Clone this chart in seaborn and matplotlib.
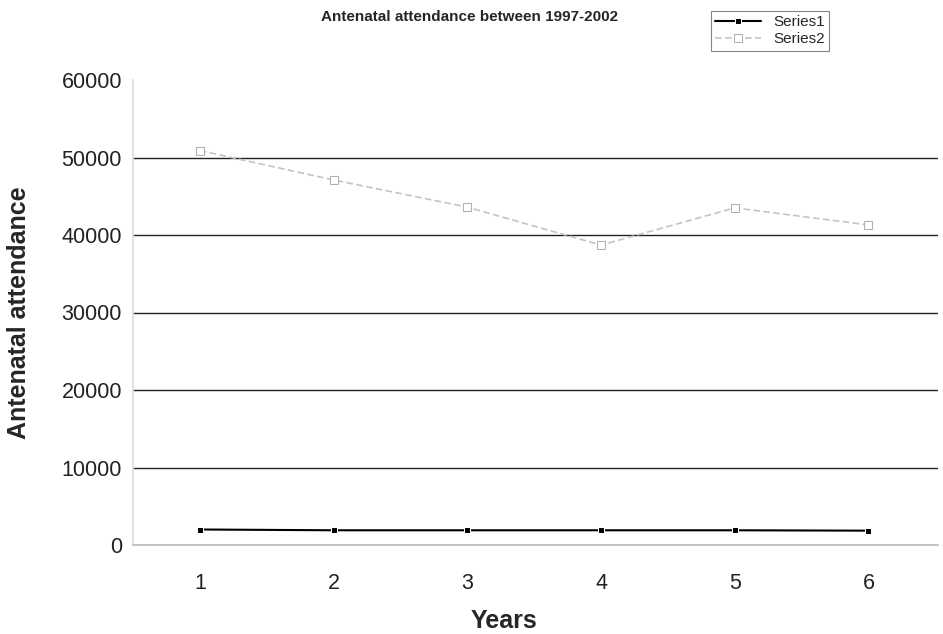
import matplotlib
matplotlib.use("Agg")
import matplotlib.pyplot as plt
import seaborn as sns
import pandas as pd

years = [1, 2, 3, 4, 5, 6]
series1 = [2000, 1900, 1900, 1900, 1900, 1850]
series2 = [50900, 47100, 43600, 38700, 43500, 41300]
yticks = [0, 10000, 20000, 30000, 40000, 50000, 60000]

sns.set_theme(style="white")
plt.rcParams['font.family'] = ['Liberation Sans', 'DejaVu Sans']

df = pd.DataFrame({"Years": years * 2,
                   "value": series1 + series2,
                   "series": ["Series1"] * 6 + ["Series2"] * 6})

fig = plt.figure(figsize=(9.43, 6.34), dpi=100)
ax = fig.add_axes([133/943, 1 - 545/634, (938-133)/943, (545-80)/634])

sns.lineplot(data=df[df.series == "Series1"], x="Years", y="value", ax=ax,
             color="black", lw=1.5, marker="s", markersize=4, label="Series1")
sns.lineplot(data=df[df.series == "Series2"], x="Years", y="value", ax=ax,
             color="#c4c4c4", lw=1.2, linestyle=(0, (4, 2)), marker="s", markersize=6,
             markerfacecolor="white", markeredgecolor="#b0b0b0", label="Series2")

ax.set_xlim(0.5, 6.52)
ax.set_ylim(0, 60000)
ax.set_yticks(yticks)
ax.set_yticklabels([str(v) for v in yticks])
ax.set_xticks(years)
for v in yticks[1:-1]:
    ax.axhline(v, color="#222222", lw=1.0, zorder=0)
ax.tick_params(axis="both", labelsize=15.5, colors="#222222", length=0)
ax.tick_params(axis="y", pad=8)
ax.tick_params(axis="x", pad=20)
for s in ["top", "right"]:
    ax.spines[s].set_visible(False)
ax.spines["left"].set_color("#dddddd")
ax.spines["bottom"].set_color("#bbbbbb")
ax.set_xlabel("Years", fontsize=18, fontweight="bold")
ax.set_ylabel("Antenatal attendance", fontsize=18, fontweight="bold")
ax.xaxis.set_label_coords((504 - 133) / (938 - 133), -(621 - 545) / (545 - 80))
ax.yaxis.set_label_coords(-(133 - 19) / (938 - 133), 0.5)
ax.xaxis.label.set_va("center")
ax.yaxis.label.set_va("center")
fig.text(470/943, 1 - 17/634, "Antenatal attendance between 1997-2002",
         ha="center", va="center", fontsize=11, fontweight="bold")
leg = ax.legend(loc="upper left", bbox_to_anchor=(703/943, 1 - 3/634),
                bbox_transform=fig.transFigure, fontsize=11, frameon=True,
                fancybox=False, edgecolor="#666666", borderpad=0.3,
                handlelength=3.0, labelspacing=0.2)
leg.get_frame().set_linewidth(0.8)
fig.savefig("out.png", dpi=100)
